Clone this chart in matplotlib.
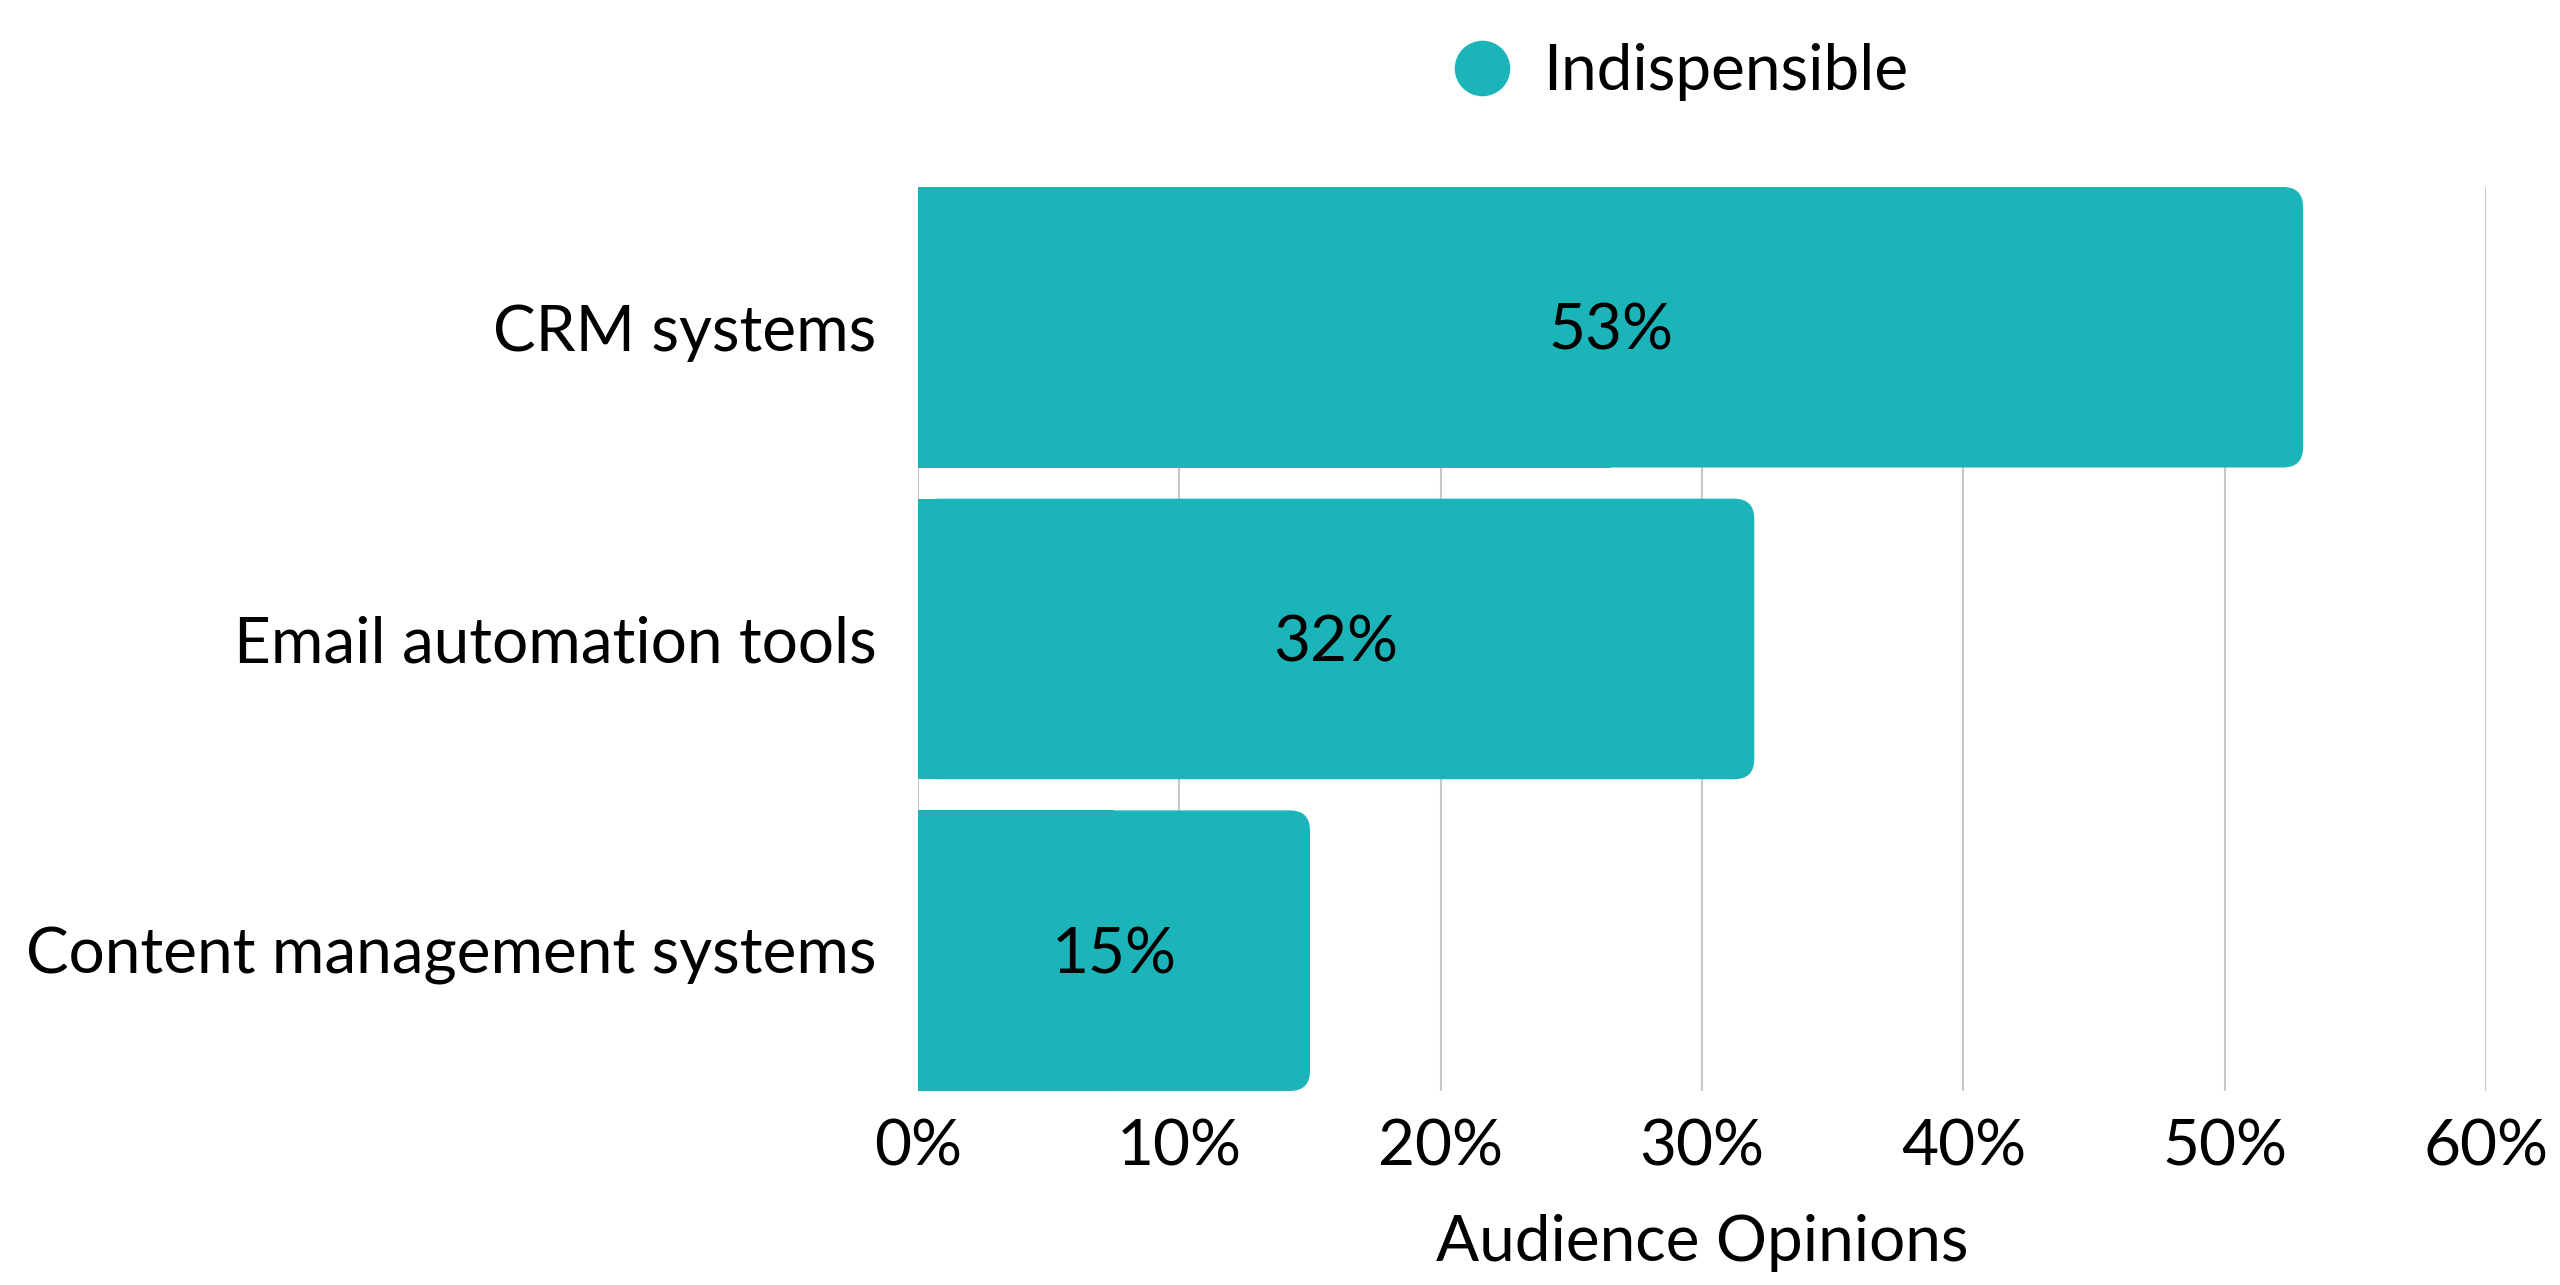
import matplotlib
matplotlib.use("Agg")
import matplotlib.pyplot as plt
from matplotlib.patches import FancyBboxPatch, Rectangle
from matplotlib.lines import Line2D
from matplotlib.ticker import FuncFormatter

# data
categories = ["CRM systems", "Email automation tools", "Content management systems"]
values = [53, 32, 15]
series_name = "Indispensible"
x_ticks = [0, 10, 20, 30, 40, 50, 60]

teal = "#1bb5b9"
plt.rcParams['font.family'] = ['Lato', 'DejaVu Sans']
FS = 46

fig = plt.figure(figsize=(25.6, 12.85), dpi=100)
ax = fig.add_axes([0.3586, 0.151, 0.6125, 0.7035])

bar_h = 0.9
pos = list(range(len(categories)))
bars = ax.barh(pos, values, height=bar_h, color=teal, alpha=0)

# rounded right end, square left end
for b, v in zip(bars, values):
    y0 = b.get_y()
    ax.add_patch(FancyBboxPatch((0, y0), v, bar_h,
                                boxstyle="round,pad=0,rounding_size=0.77",
                                mutation_aspect=0.084,
                                fc=teal, ec="none", zorder=3))
    ax.add_patch(Rectangle((0, y0), v / 2, bar_h, fc=teal, ec="none", zorder=3))
    ax.text(v / 2, b.get_y() + bar_h / 2 + 0.015, f"{v}%", ha="center", va="center",
            fontsize=FS, color="black", zorder=4)

ax.set_xlim(0, 60)
ax.set_ylim(-0.45, len(categories) - 0.55)
ax.invert_yaxis()
ax.set_yticks(pos)
ax.set_yticklabels(categories)
ax.set_xticks(x_ticks)
ax.xaxis.set_major_formatter(FuncFormatter(lambda x, _: f"{x:.0f}%"))
ax.tick_params(axis="both", length=0, labelsize=FS, colors="black")
ax.tick_params(axis="x", pad=20)
ax.tick_params(axis="y", pad=30)
ax.grid(axis="x", color="#c8c8c8", linewidth=1.5, zorder=0)
ax.set_axisbelow(True)
for s in ax.spines.values():
    s.set_visible(False)
ax.set_xlabel("Audience Opinions", fontsize=FS, labelpad=27)

handle = Line2D([], [], marker="o", linestyle="none", markersize=40,
                markerfacecolor=teal, markeredgecolor="none")
fig.legend([handle], [series_name], loc="center", bbox_to_anchor=(0.656, 0.944),
           frameon=False, fontsize=FS, handletextpad=0.45, handlelength=1.0)

fig.savefig("out.png", dpi=100)
